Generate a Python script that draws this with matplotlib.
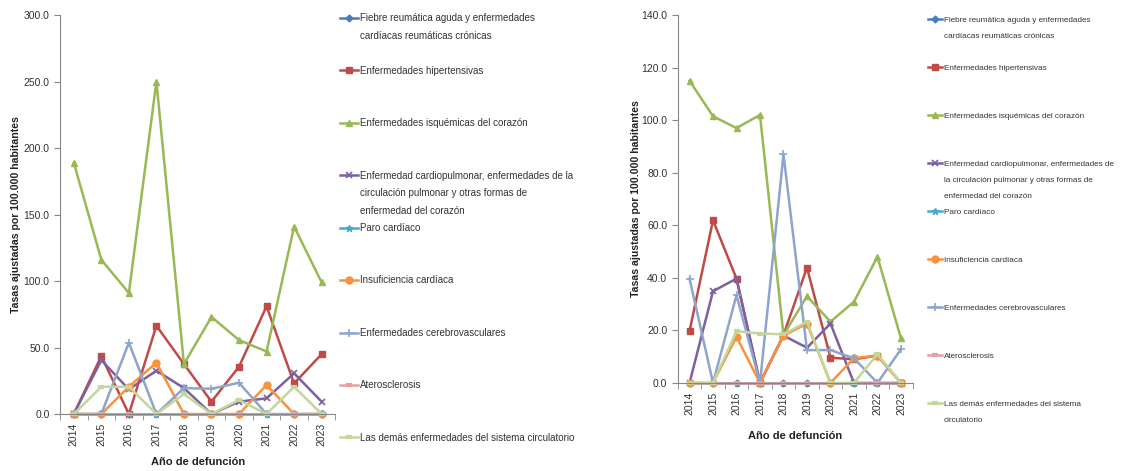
import matplotlib
matplotlib.use("Agg")
import matplotlib.pyplot as plt
from matplotlib import font_manager
from matplotlib.lines import Line2D
from matplotlib.ticker import FormatStrFormatter, FixedLocator

# pick a narrow Arial-like face if present
family = "DejaVu Sans"
for name in ["Liberation Sans Narrow", "Liberation Sans", "DejaVu Sans"]:
    try:
        font_manager.findfont(name, fallback_to_default=False)
        family = name
        break
    except Exception:
        pass
plt.rcParams["font.family"] = [family, "DejaVu Sans"]

years = ["2014", "2015", "2016", "2017", "2018", "2019", "2020", "2021", "2022", "2023"]

# left panel
left_fiebre = [0, 0, 0, 0, 0, 0, 0, 0, 0, 0]
left_hipert = [0, 43.6, 0, 66.4, 37.6, 9.3, 35.6, 81.0, 23.0, 45.0]
left_isquem = [189, 116, 91, 250, 37.6, 73, 55.6, 47, 141, 99]
left_cardiop = [0, 40.5, 18.5, 32.6, 19.5, 0, 9.3, 11.8, 30.6, 9.3]
left_paro = [0, 0, 0, 0, 0, 0, 0, 0, 0, 0]
left_insuf = [0, 0, 20.5, 38.6, 0, 0, 0, 21.8, 0, 0]
left_cerebro = [0, 0, 53.6, 0, 19.5, 19.0, 23.5, 0, 0, 0]
left_ateros = [0, 0, 0, 0, 0, 0, 0, 0, 0, 0]
left_demas = [0, 20.5, 20.5, 0, 15, 0, 10.5, 0, 20.5, 0]

# right panel
right_fiebre = [0, 0, 0, 0, 0, 0, 0, 0, 0, 0]
right_hipert = [19.7, 61.9, 39.7, 0, 18.2, 43.9, 9.6, 9.0, 10.4, 0]
right_isquem = [115, 101.5, 97, 102, 18.2, 33.0, 23.3, 30.9, 48.0, 17.0]
right_cardiop = [0, 34.9, 39.7, 0, 18.0, 13.4, 22.6, 0, 0, 0]
right_paro = [0, 0, 0, 0, 0, 0, 0, 0, 0, 0]
right_insuf = [0, 0, 17.6, 0, 18.0, 22.6, 0, 9.4, 10.4, 0]
right_cerebro = [39.7, 0, 33.4, 0, 87.0, 12.5, 12.5, 9.4, 0, 12.8]
right_ateros = [0, 0, 0, 0, 0, 0, 0, 0, 0, 0]
right_demas = [0, 0, 19.7, 18.8, 18.5, 23.3, 0, 0, 10.9, 0]

left_labels = [
    "Fiebre reumática aguda y enfermedades\ncardíacas reumáticas crónicas",
    "Enfermedades hipertensivas",
    "Enfermedades isquémicas del corazón",
    "Enfermedad cardiopulmonar, enfermedades de la\ncirculación pulmonar y otras formas de\nenfermedad del corazón",
    "Paro cardíaco",
    "Insuficiencia cardíaca",
    "Enfermedades cerebrovasculares",
    "Aterosclerosis",
    "Las demás enfermedades del sistema circulatorio",
]
right_labels = [
    "Fiebre reumática aguda y enfermedades\ncardíacas reumáticas crónicas",
    "Enfermedades hipertensivas",
    "Enfermedades isquémicas del corazón",
    "Enfermedad cardiopulmonar, enfermedades de\nla circulación pulmonar y otras formas de\nenfermedad del corazón",
    "Paro cardíaco",
    "Insuficiencia cardíaca",
    "Enfermedades cerebrovasculares",
    "Aterosclerosis",
    "Las demás enfermedades del sistema\ncirculatorio",
]

styles = [
    dict(color="#4A7EBB", marker="D", ms=3.5),
    dict(color="#BE4B48", marker="s", ms=5),
    dict(color="#98B954", marker="^", ms=5),
    dict(color="#7D60A0", marker="x", ms=5, mew=1.2),
    dict(color="#46AAC5", marker="*", ms=5),
    dict(color="#F69240", marker="o", ms=5),
    dict(color="#8EA5CB", marker="+", ms=6, mew=1.2),
    dict(color="#E3A1A0", marker="_", ms=5, mew=3),
    dict(color="#C3D69B", marker="_", ms=5, mew=3),
]

TXT = "#333333"
AX = "#868686"


def draw_panel(ax, series, ymax, ystep):
    lines = []
    x = list(range(len(years)))
    for vals, st in zip(series, styles):
        (ln,) = ax.plot(x, vals, lw=1.8, **st)
        lines.append(ln)
    ax.set_xlim(-0.5, len(years) - 0.5)
    ax.set_ylim(0, ymax)
    ax.set_yticks([v * ystep for v in range(int(ymax / ystep) + 1)])
    ax.yaxis.set_major_formatter(FormatStrFormatter("%.1f"))
    ax.set_xticks(x)
    ax.set_xticklabels(years, rotation=90)
    ax.xaxis.set_minor_locator(FixedLocator([i - 0.5 for i in range(len(years) + 1)]))
    ax.tick_params(axis="x", which="major", length=0, labelsize=7.5, labelcolor=TXT, pad=6)
    ax.tick_params(axis="x", which="minor", length=4, color=AX, direction="out")
    ax.tick_params(axis="y", length=4, color=AX, labelsize=7.5, labelcolor=TXT)
    for s in ["top", "right"]:
        ax.spines[s].set_visible(False)
    for s in ["left", "bottom"]:
        ax.spines[s].set_color(AX)
    ax.set_ylabel("Tasas ajustadas por 100.000 habitantes", fontsize=7.6, fontweight="bold", color="#222222")
    ax.set_xlabel("Año de defunción", fontsize=8, fontweight="bold", color="#222222")
    for ln in ax.get_lines():
        ln.set_clip_on(False)
    return lines


def slot_legend(fig, handles, labels, x, y, fontsize, spacing, hlen, tpad):
    blank = Line2D([], [], linestyle="none")
    hs, ls = [], []
    for h, lab in zip(handles, labels):
        rows = lab.split("\n")
        rows += [" "] * (3 - len(rows))
        hs.append(h)
        ls.append(rows[0])
        for r in rows[1:]:
            hs.append(blank)
            ls.append(r)
    leg = fig.legend(hs, ls, loc="upper left", bbox_to_anchor=(x, y), frameon=False,
                     fontsize=fontsize, labelspacing=spacing, handlelength=hlen,
                     handletextpad=tpad, borderpad=0, borderaxespad=0, numpoints=1)
    for t in leg.get_texts():
        t.set_color(TXT)


fig = plt.figure(figsize=(11.24, 4.71), dpi=100)

ax1 = fig.add_axes([0.0534, 0.121, 0.245, 0.847])
l1 = draw_panel(ax1, [left_fiebre, left_hipert, left_isquem, left_cardiop, left_paro,
                      left_insuf, left_cerebro, left_ateros, left_demas], 300, 50)
ax1.yaxis.set_label_coords(-0.14, 0.5)
ax1.xaxis.set_label_coords(0.5, -0.108)

ax2 = fig.add_axes([0.603, 0.187, 0.209, 0.781])
l2 = draw_panel(ax2, [right_fiebre, right_hipert, right_isquem, right_cardiop, right_paro,
                      right_insuf, right_cerebro, right_ateros, right_demas], 140, 20)
ax2.yaxis.set_label_coords(-0.155, 0.5)
ax2.xaxis.set_label_coords(0.5, -0.13)

slot_legend(fig, l1, left_labels, 0.3025, 0.972, 7.0, 0.77, 1.8, 0.25)
slot_legend(fig, l2, right_labels, 0.8256, 0.966, 5.9, 1.01, 1.75, 0.2)

fig.savefig("out.png", dpi=100)
